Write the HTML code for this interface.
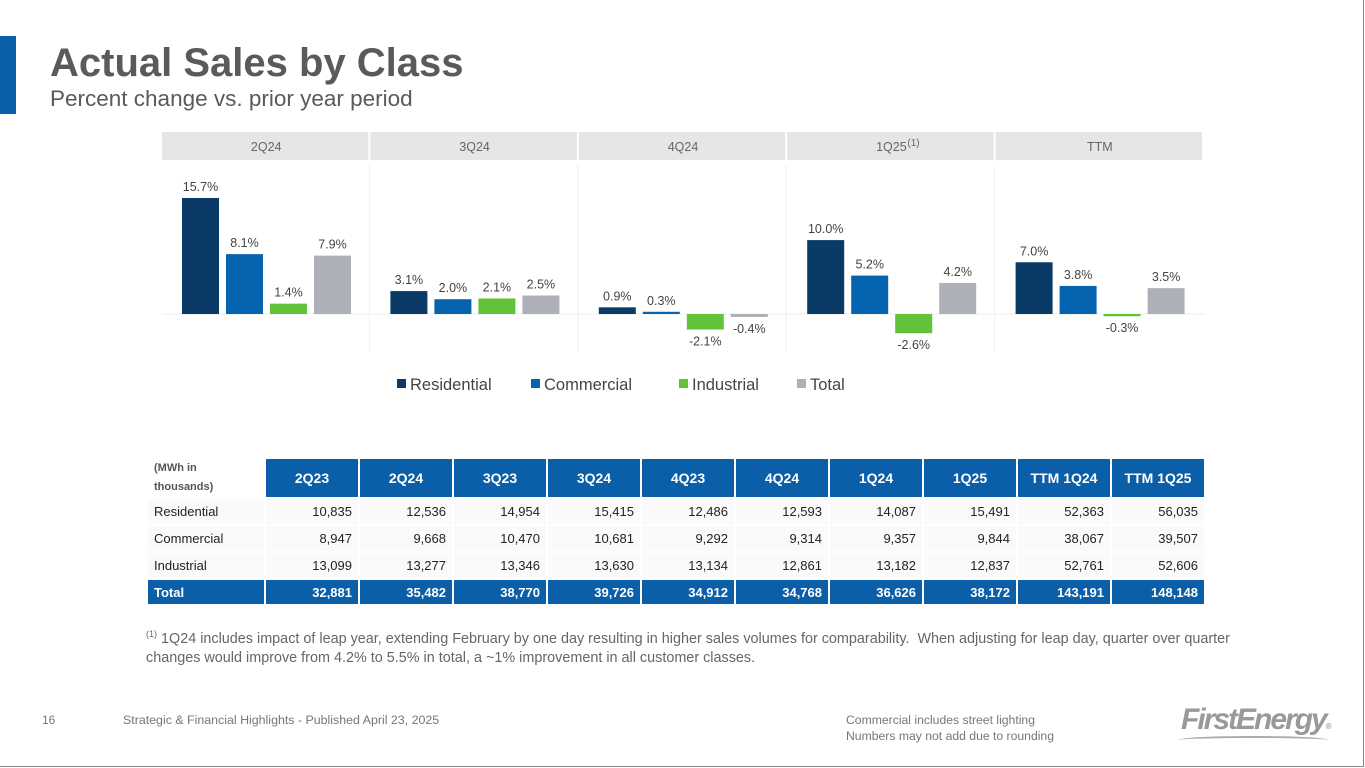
<!DOCTYPE html>
<html><head><meta charset="utf-8">
<style>
body{margin:0;width:1365px;height:768px;overflow:hidden;background:#fff;font-family:"Liberation Sans",sans-serif;position:relative}
.abs{position:absolute}
table{border-collapse:separate;border-spacing:2px;position:absolute;left:146px;top:457px;font-size:13px;color:#222}
td{padding:0 6px;height:25px}
th{background:#0b5fa8;color:#fff;font-size:14px;font-weight:bold;height:34px;width:80px}
td.n{text-align:right;width:80px;background:#fafafa}
td.l{width:104px;background:#fafafa}
tr.tot td{background:#0b5fa8;color:#fff;font-weight:bold;height:24px}
</style></head><body>
<div class="abs" style="left:0;top:0;width:1363px;height:766px;border-right:1px solid #888;border-bottom:1px solid #888"></div>
<div class="abs" style="left:0;top:36px;width:16px;height:78px;background:#0b5fa8"></div>
<div class="abs" style="left:50px;top:41px;font-size:40px;font-weight:bold;color:#5a5a5a">Actual Sales by Class</div>
<div class="abs" style="left:50px;top:86px;font-size:22.5px;color:#5a5a5a">Percent change vs. prior year period</div>

<svg class="abs" style="left:0;top:0" width="1365" height="410" id="chart"></svg>

<table>
<tr><td class="l" style="background:#fff;font-size:11px;font-weight:bold;color:#555;line-height:19px;vertical-align:top">(MWh in<br>thousands)</td>
<th>2Q23</th><th>2Q24</th><th>3Q23</th><th>3Q24</th><th>4Q23</th><th>4Q24</th><th>1Q24</th><th>1Q25</th><th>TTM 1Q24</th><th>TTM 1Q25</th></tr>
<tr><td class="l">Residential</td><td class="n">10,835</td><td class="n">12,536</td><td class="n">14,954</td><td class="n">15,415</td><td class="n">12,486</td><td class="n">12,593</td><td class="n">14,087</td><td class="n">15,491</td><td class="n">52,363</td><td class="n">56,035</td></tr>
<tr><td class="l">Commercial</td><td class="n">8,947</td><td class="n">9,668</td><td class="n">10,470</td><td class="n">10,681</td><td class="n">9,292</td><td class="n">9,314</td><td class="n">9,357</td><td class="n">9,844</td><td class="n">38,067</td><td class="n">39,507</td></tr>
<tr><td class="l">Industrial</td><td class="n">13,099</td><td class="n">13,277</td><td class="n">13,346</td><td class="n">13,630</td><td class="n">13,134</td><td class="n">12,861</td><td class="n">13,182</td><td class="n">12,837</td><td class="n">52,761</td><td class="n">52,606</td></tr>
<tr class="tot"><td class="l">Total</td><td class="n">32,881</td><td class="n">35,482</td><td class="n">38,770</td><td class="n">39,726</td><td class="n">34,912</td><td class="n">34,768</td><td class="n">36,626</td><td class="n">38,172</td><td class="n">143,191</td><td class="n">148,148</td></tr>
</table>

<div class="abs" style="left:146px;top:625px;width:1110px;font-size:14.4px;color:#666;line-height:19px"><sup style="font-size:9px">(1)</sup> 1Q24 includes impact of leap year, extending February by one day resulting in higher sales volumes for comparability.&nbsp; When adjusting for leap day, quarter over quarter changes would improve from 4.2% to 5.5% in total, a ~1% improvement in all customer classes.</div>
<div class="abs" style="left:42px;top:713px;font-size:12px;color:#777">16</div>
<div class="abs" style="left:123px;top:713px;font-size:12.4px;color:#777">Strategic &amp; Financial Highlights - Published April 23, 2025</div>
<div class="abs" style="left:846px;top:712px;font-size:12.2px;color:#777;line-height:16px">Commercial includes street lighting<br>Numbers may not add due to rounding</div>
<div class="abs" style="left:1181px;top:703px;font-size:30px;font-weight:bold;font-style:italic;color:#999;letter-spacing:-2px">FirstEnergy<span style="font-size:8px;font-style:normal;letter-spacing:0">®</span></div>
<div class="abs" style="left:1178px;top:736px;width:150px;height:6px;border-top:2px solid #aaa;border-radius:50%"></div>

<script>
const categories=["2Q24","3Q24","4Q24","1Q25","TTM"];
const series=["Residential","Commercial","Industrial","Total"];
const residential=[15.7,3.1,0.9,10.0,7.0];
const commercial=[8.1,2.0,0.3,5.2,3.8];
const industrial=[1.4,2.1,-2.1,-2.6,-0.3];
const total=[7.9,2.5,-0.4,4.2,3.5];
const colors=["#0a3a66","#0563b0","#64c13a","#aeb0b8"];
const values=[residential,commercial,industrial,total];
const svg=document.getElementById('chart');
const NS='http://www.w3.org/2000/svg';
const x0=162,pw=208.4,zeroY=314,pxPer=7.39;
const y=v=>zeroY-v*pxPer;
function mk(t,a){const e=document.createElementNS(NS,t);for(const k in a)e.setAttribute(k,a[k]);svg.appendChild(e);return e;}
categories.forEach((c,i)=>{
  const px=x0+i*pw;
  const h=mk('rect',{x:px,y:132,width:pw-2,height:28,fill:'#e6e6e6'});
  
  
  const t=mk('text',{x:px+pw/2,y:151,'text-anchor':'middle','font-size':12.5,fill:'#666','font-family':'Liberation Sans'});
  t.textContent=c;
  
  
  if(i<categories.length-1){const s=mk('line',{x1:px+pw-1,x2:px+pw-1,y1:165,y2:352,stroke:'#f0f0f0'});
  
  }
});
const fn=mk('text',{x:x0+3*pw+pw/2+16,y:146,'font-size':10,fill:'#666','font-family':'Liberation Sans'});
fn.textContent='(1)';


const zl=mk('line',{x1:162,x2:1204,y1:zeroY,y2:zeroY,stroke:'#ececec'});


categories.forEach((c,i)=>{
  const px=x0+i*pw+20;
  values.forEach((arr,s)=>{
    const v=arr[i];const bx=px+s*44;
    const top=Math.min(y(v),zeroY),hh=Math.abs(y(v)-zeroY);
    const r=mk('rect',{x:bx,y:top,width:37,height:Math.max(hh,1),fill:colors[s]});
    
    
    const ly=v>=0?y(v)-7:y(v)+16;
    const l=mk('text',{x:bx+18.5,y:ly,'text-anchor':'middle','font-size':12.5,fill:'#444','font-family':'Liberation Sans'});
    l.textContent=v.toFixed(1)+'%';
    
    
  });
});
const lx=[397,531,679,797];
series.forEach((s,i)=>{
  const r=mk('rect',{x:lx[i],y:379,width:9,height:9,fill:colors[i]});
  
  
  const t=mk('text',{x:lx[i]+13,y:390,'font-size':16.5,fill:'#444','font-family':'Liberation Sans'});
  t.textContent=s;
  
  
});
</script>
</body></html>
